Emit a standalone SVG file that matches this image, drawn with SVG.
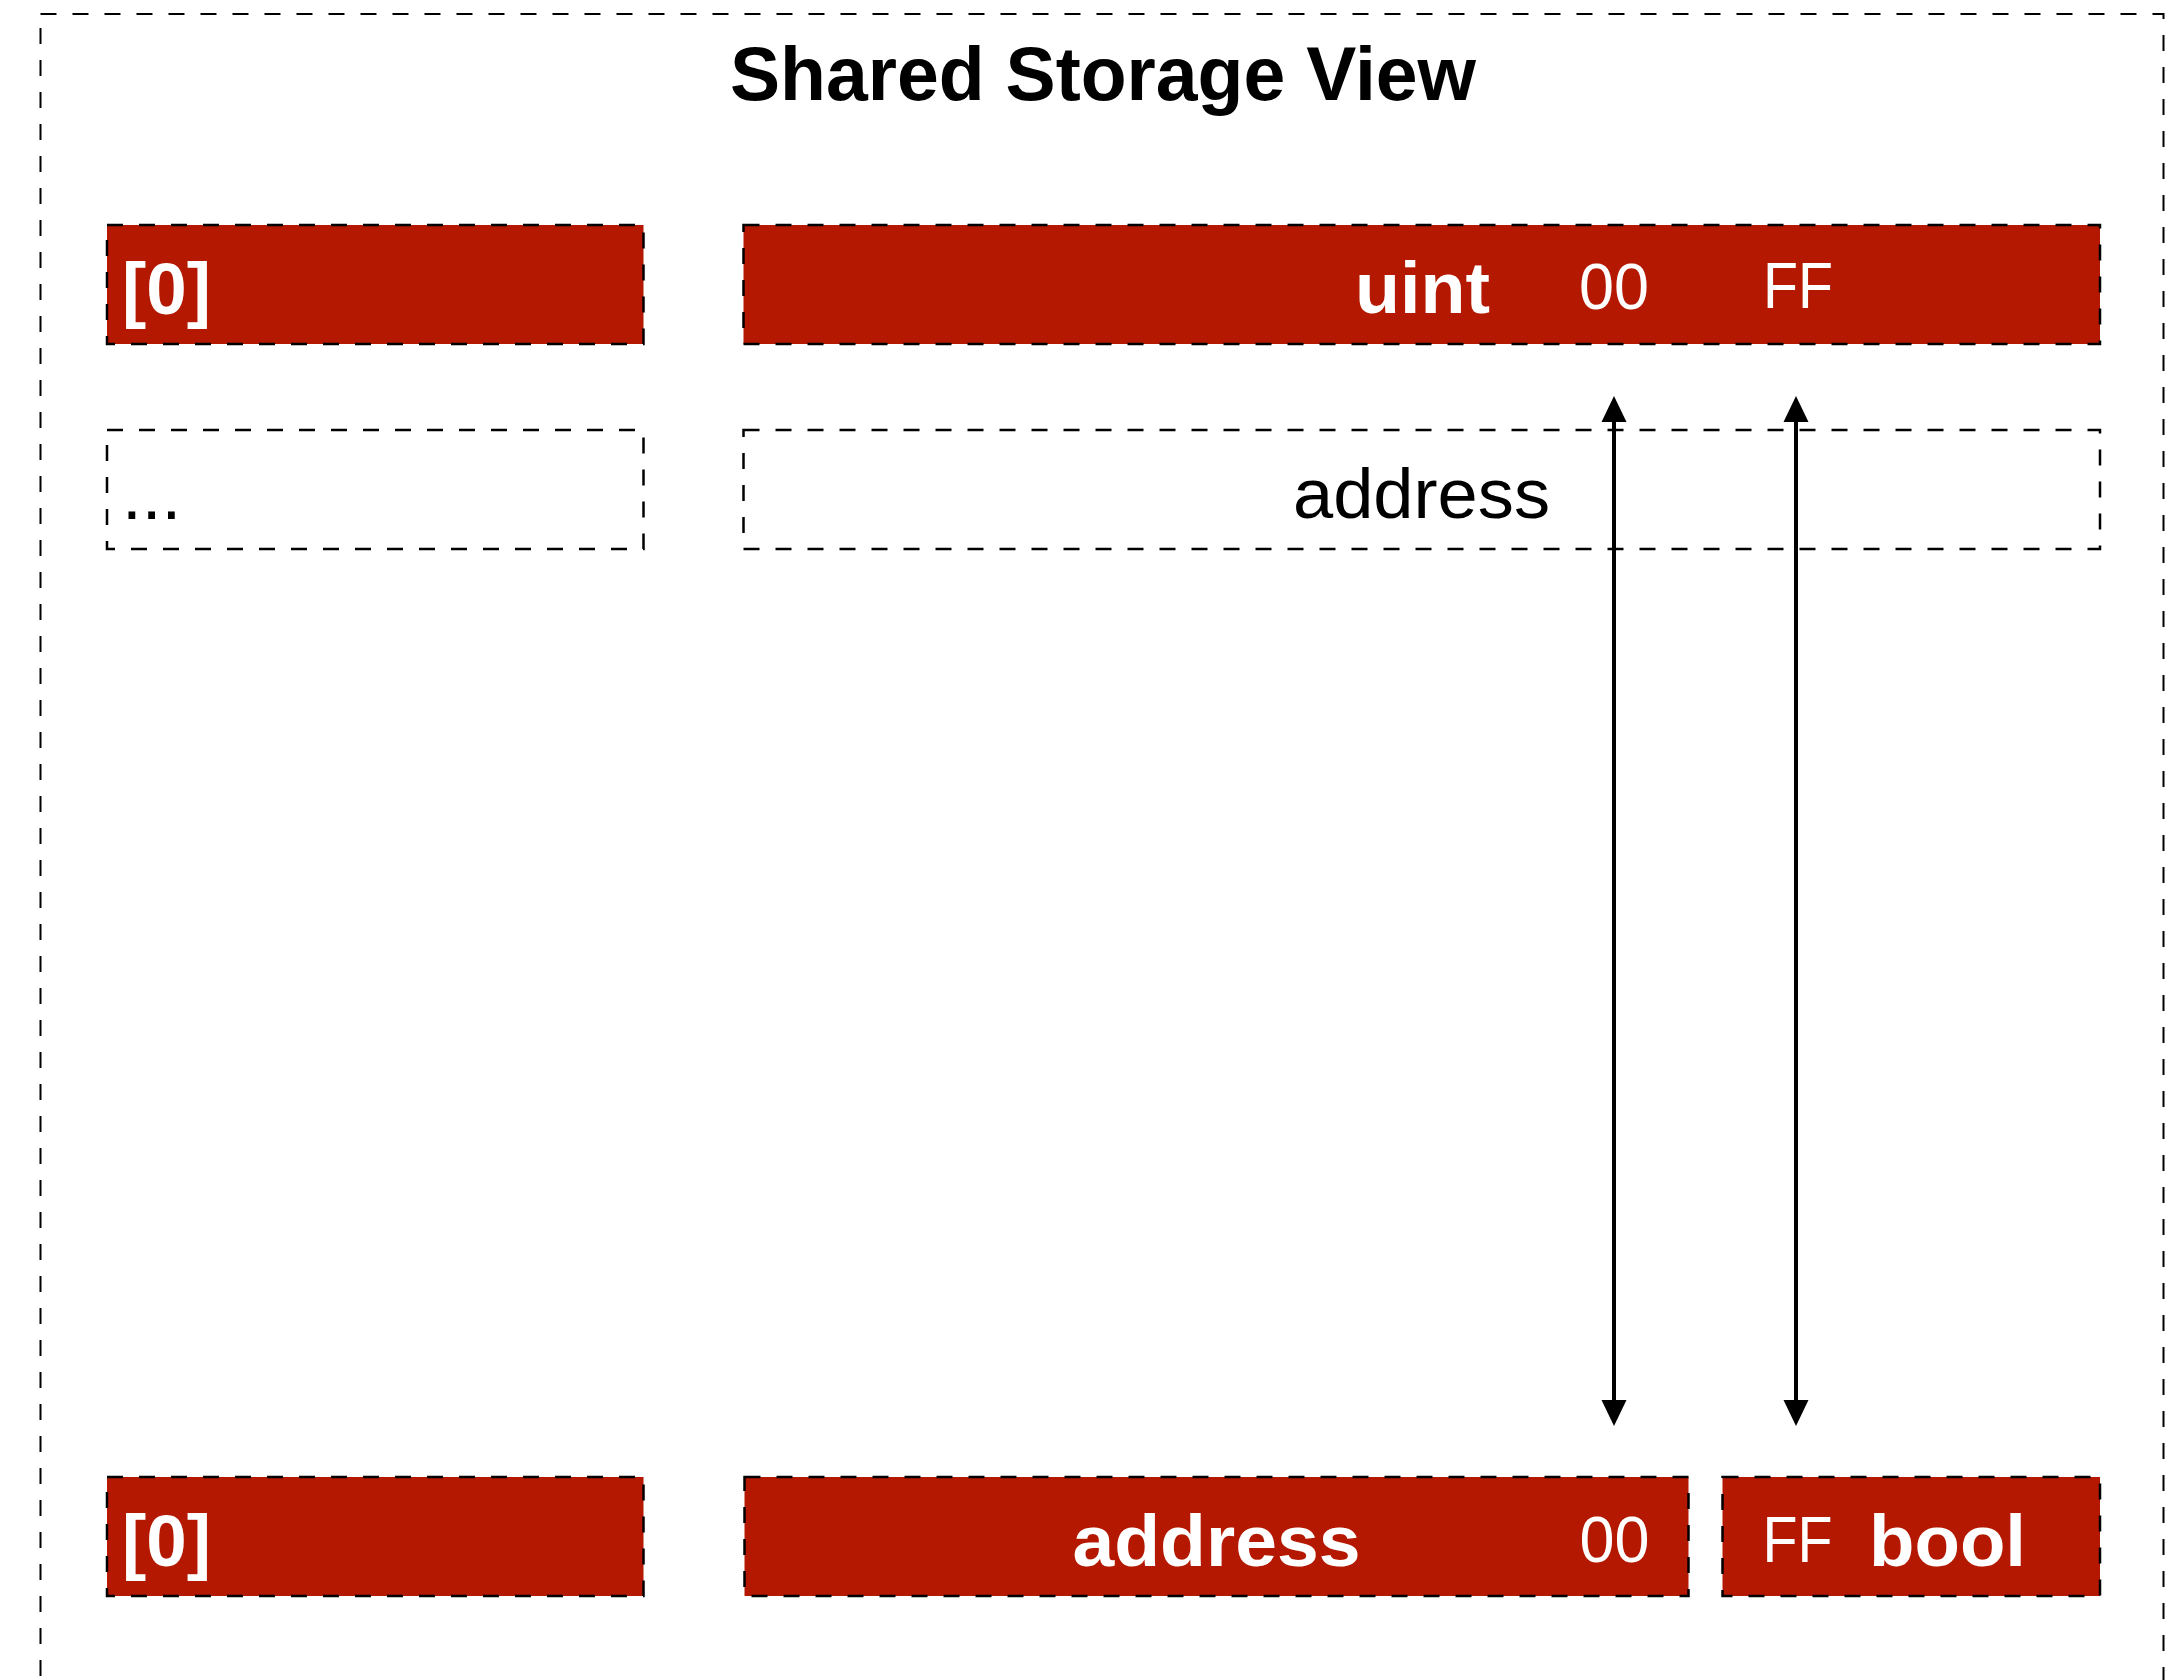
<svg xmlns="http://www.w3.org/2000/svg" width="2182" height="1680" viewBox="0 0 2182 1680">
  <style>
    .frame { fill: none; stroke: #000; stroke-width: 2; stroke-dasharray: 16 16; }
    .slot { fill: #b41800; stroke: #000; stroke-width: 2.5; stroke-dasharray: 16 16; }
    .empty { fill: none; stroke: #000; stroke-width: 2.5; stroke-dasharray: 16 16; }
    .title { font-family: "Liberation Sans", Arial, sans-serif; font-weight: bold; font-size: 76px; fill: #000; }
    .label { font-family: "Liberation Sans", Arial, sans-serif; font-weight: bold; font-size: 73px; fill: #fff; }
    .byte { font-family: "Liberation Sans", Arial, sans-serif; font-weight: normal; font-size: 65px; fill: #fff; }
    .plain { font-family: "Liberation Sans", Arial, sans-serif; font-weight: normal; font-size: 71px; fill: #000; }
    .link { stroke: #000; stroke-width: 4; fill: none; }
  </style>
  <defs>
    <marker id="head" markerUnits="userSpaceOnUse" markerWidth="26" markerHeight="26" viewBox="0 0 26 26" refX="14" refY="13" orient="auto-start-reverse">
      <path d="M0,0.5 L26,13 L0,25.5 Z" fill="#000"/>
    </marker>
  </defs>

  <rect width="2182" height="1680" fill="#fff"/>

  <!-- outer frame, open at the bottom of the canvas -->
  <g id="frame">
    <rect class="frame" x="40.5" y="14" width="2123" height="1700"/>
    <text class="title" x="1103" y="100" text-anchor="middle" textLength="746" lengthAdjust="spacingAndGlyphs">Shared Storage View</text>
  </g>

  <!-- top row: slot index and the uint word -->
  <g id="slot-index-top">
    <rect class="slot" x="107" y="225" width="536.5" height="119"/>
    <text class="label" x="166.5" y="314" text-anchor="middle" font-size="76" textLength="89" lengthAdjust="spacingAndGlyphs">[0]</text>
  </g>
  <g id="uint-word">
    <rect class="slot" x="743.5" y="225" width="1356.5" height="119"/>
    <text class="label" x="1422.5" y="313" text-anchor="middle" textLength="135" lengthAdjust="spacingAndGlyphs">uint</text>
    <text class="byte" x="1614" y="309" text-anchor="middle" textLength="70" lengthAdjust="spacingAndGlyphs">00</text>
    <text class="byte" x="1798" y="308" text-anchor="middle" textLength="70" lengthAdjust="spacingAndGlyphs">FF</text>
  </g>

  <!-- second row: placeholder slots -->
  <g id="slot-index-more">
    <rect class="empty" x="107" y="430" width="536.5" height="119"/>
    <text class="plain" x="122" y="519" font-size="74">...</text>
  </g>
  <g id="address-word">
    <rect class="empty" x="743.5" y="430" width="1356.5" height="119"/>
    <text class="plain" x="1421.5" y="518" text-anchor="middle" textLength="257" lengthAdjust="spacingAndGlyphs">address</text>
  </g>

  <!-- bottom row: address and bool packed in one slot -->
  <g id="slot-index-bottom">
    <rect class="slot" x="107" y="1477" width="536.5" height="119"/>
    <text class="label" x="166.5" y="1566" text-anchor="middle" font-size="76" textLength="89" lengthAdjust="spacingAndGlyphs">[0]</text>
  </g>
  <g id="address-packed">
    <rect class="slot" x="744.5" y="1477" width="944" height="119"/>
    <text class="label" x="1216.5" y="1566" text-anchor="middle" textLength="288" lengthAdjust="spacingAndGlyphs">address</text>
    <text class="byte" x="1614.5" y="1562" text-anchor="middle" textLength="70" lengthAdjust="spacingAndGlyphs">00</text>
  </g>
  <g id="bool-packed">
    <rect class="slot" x="1722.5" y="1477" width="377.5" height="119"/>
    <text class="byte" x="1797.5" y="1562" text-anchor="middle" textLength="70" lengthAdjust="spacingAndGlyphs">FF</text>
    <text class="label" x="1947.5" y="1566" text-anchor="middle" textLength="157" lengthAdjust="spacingAndGlyphs">bool</text>
  </g>

  <!-- byte correspondences -->
  <g id="connectors">
    <line class="link" x1="1614" y1="408" x2="1614" y2="1414" marker-start="url(#head)" marker-end="url(#head)"/>
    <line class="link" x1="1796" y1="408" x2="1796" y2="1414" marker-start="url(#head)" marker-end="url(#head)"/>
  </g>
</svg>
